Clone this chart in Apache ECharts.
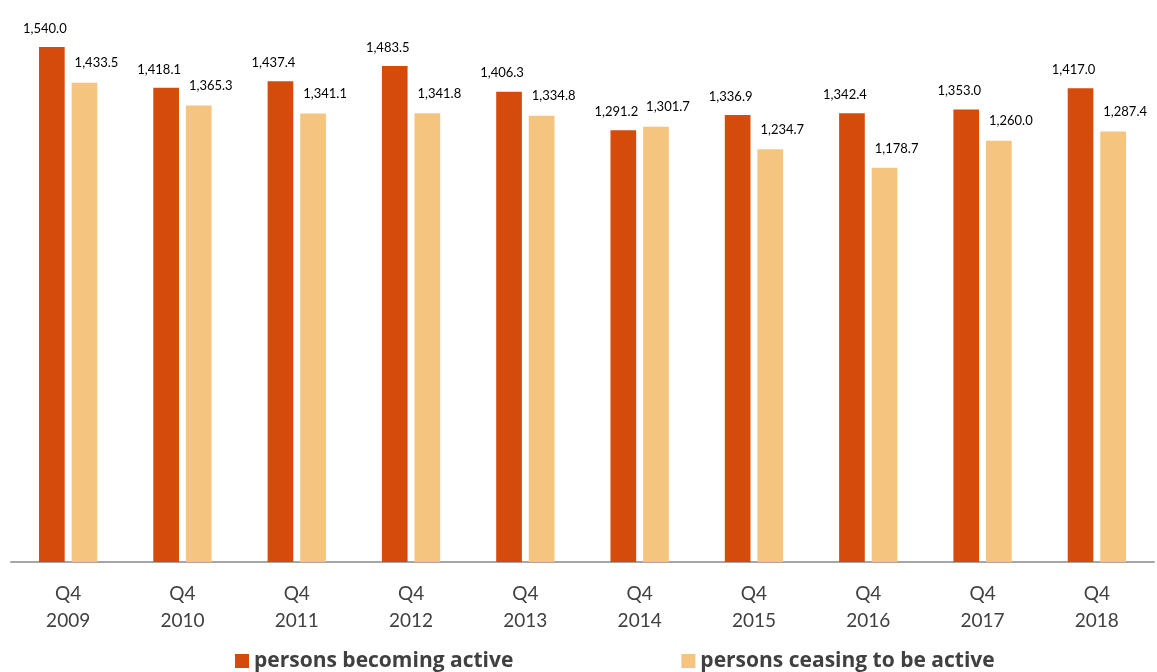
<!DOCTYPE html>
<html>
<head>
<meta charset="utf-8">
<script src="https://cdn.jsdelivr.net/npm/echarts@6/dist/echarts.min.js"></script>
<style>
  html, body { margin: 0; padding: 0; background: #fff; }
  #main { width: 1157px; height: 672px; }
</style>
</head>
<body>
<div id="main"></div>
<script>
const years = ['2009', '2010', '2011', '2012', '2013', '2014', '2015', '2016', '2017', '2018'];
const becomingActive = [1540.0, 1418.1, 1437.4, 1483.5, 1406.3, 1291.2, 1336.9, 1342.4, 1353.0, 1417.0];
const ceasingActive = [1433.5, 1365.3, 1341.1, 1341.8, 1334.8, 1301.7, 1234.7, 1178.7, 1260.0, 1287.4];

const fmt = v => v.toLocaleString('en-US', {minimumFractionDigits: 1, maximumFractionDigits: 1});

const chart = echarts.init(document.getElementById('main'));
const option = {
  animation: false,
  textStyle: { fontFamily: 'Lato' },
  grid: { left: 11, right: 3, top: 27, bottom: 110 },
  legend: {
    top: 650,
    left: 235,
    padding: 0,
    itemWidth: 14,
    itemHeight: 14,
    itemGap: 168,
    icon: 'rect',
    textStyle: { fontSize: 21, lineHeight: 22, fontWeight: 'bold', color: '#404040', fontFamily: 'Open Sans' },
    data: ['persons becoming active', 'persons ceasing to be active']
  },
  xAxis: {
    type: 'category',
    data: years.map(y => 'Q4\n' + y),
    axisLine: { lineStyle: { color: '#a6a6a6', width: 2 } },
    axisTick: { show: false },
    axisLabel: { fontSize: 19, color: '#404040', lineHeight: 27, margin: 18 }
  },
  yAxis: {
    type: 'value',
    min: 0,
    max: 1600,
    show: false,
    splitLine: { show: false }
  },
  series: [
    {
      name: 'persons becoming active',
      type: 'bar',
      data: becomingActive,
      barGap: '27%',
      barCategoryGap: '49%',
      itemStyle: { color: '#d54b0c' },
      label: {
        show: true, position: 'top', distance: 5, offset: [-7, -7],
        fontSize: 13, color: '#000', formatter: p => fmt(p.value)
      }
    },
    {
      name: 'persons ceasing to be active',
      type: 'bar',
      data: ceasingActive,
      itemStyle: { color: '#f5c47f' },
      label: {
        show: true, position: 'top', distance: 5, offset: [12, -8],
        fontSize: 13, color: '#000', formatter: p => fmt(p.value)
      }
    }
  ]
};
chart.setOption(option);
</script>
</body>
</html>
